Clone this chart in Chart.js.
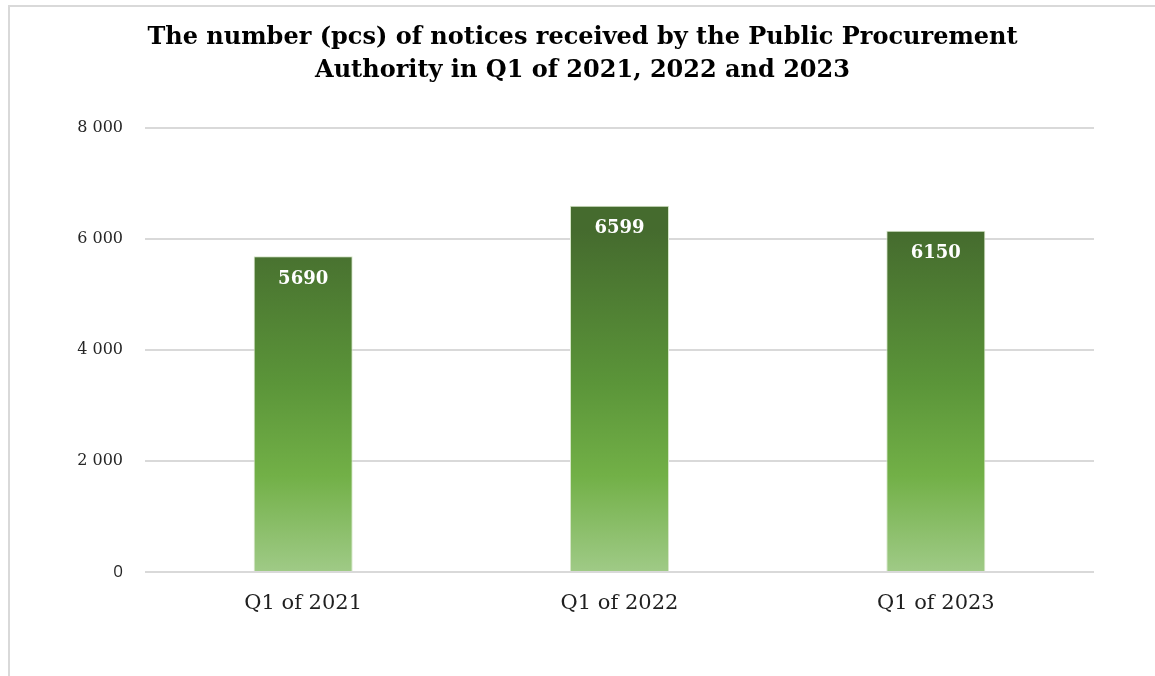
<!DOCTYPE html>
<html>
<head>
<meta charset="utf-8">
<script src="https://cdn.jsdelivr.net/npm/chart.js@4"></script>
<style>
  html, body { margin: 0; padding: 0; background: #fff; overflow: hidden; }
  #frame {
    position: absolute; left: 8px; top: 5px; width: 1147px; height: 671px;
    border-left: 2px solid #d9d9d9; border-top: 2px solid #d9d9d9;
  }
  #wrap { width: 1145px; height: 669px; }
</style>
</head>
<body>
<div id="frame"><div id="wrap"><canvas id="grafica"></canvas></div></div>
<script>
const categorias = ['Q1 of 2021', 'Q1 of 2022', 'Q1 of 2023'];
const avisos = [5690, 6599, 6150];
const tituloLineas = [
    'The number (pcs) of notices received by the Public Procurement',
    'Authority in Q1 of 2021, 2022 and 2023'
];

const fuenteSerif = '"DejaVu Serif", "Liberation Serif", serif';

// Degradado vertical en cada barra (oscuro arriba, claro abajo)
const degradadoBarras = {
    id: 'degradadoBarras',
    beforeDatasetsDraw(chart) {
        const ctx = chart.ctx;
        chart.getDatasetMeta(0).data.forEach(bar => {
            const g = ctx.createLinearGradient(0, bar.y, 0, bar.base);
            g.addColorStop(0, '#456b2e');
            g.addColorStop(0.45, '#5b9539');
            g.addColorStop(0.72, '#72b047');
            g.addColorStop(1, '#9fca86');
            bar.options.backgroundColor = g;
        });
    }
};

// Etiquetas de valor dentro de la barra, arriba
const etiquetasValor = {
    id: 'etiquetasValor',
    afterDatasetsDraw(chart) {
        const ctx = chart.ctx;
        const meta = chart.getDatasetMeta(0);
        ctx.save();
        ctx.fillStyle = '#ffffff';
        ctx.font = 'bold 18px ' + fuenteSerif;
        ctx.textAlign = 'center';
        ctx.textBaseline = 'middle';
        meta.data.forEach((bar, i) => {
            ctx.fillText(String(avisos[i]), bar.x, bar.y + 23);
        });
        ctx.restore();
    }
};

new Chart(document.getElementById('grafica'), {
    type: 'bar',
    data: {
        labels: categorias,
        datasets: [{
            data: avisos,
            backgroundColor: '#70ad47',
            borderColor: '#d6e6c8',
            borderWidth: 1,
            categoryPercentage: 1,
            barPercentage: 0.313
        }]
    },
    options: {
        responsive: true,
        maintainAspectRatio: false,
        animation: false,
        layout: { padding: 0 },
        plugins: {
            legend: { display: false },
            tooltip: { enabled: false },
            title: {
                display: true,
                text: tituloLineas,
                color: '#000000',
                font: { family: fuenteSerif, size: 24, weight: 'bold', lineHeight: 1.375 },
                padding: { top: 14, bottom: 41 }
            }
        },
        scales: {
            x: {
                grid: { display: false, drawTicks: false },
                border: { display: false },
                ticks: {
                    color: '#1f1f1f',
                    font: { family: fuenteSerif, size: 21 },
                    padding: 19
                },
                afterFit(scale) { scale.height = 104; }
            },
            y: {
                min: 0,
                max: 8000,
                grid: { color: '#d9d9d9', lineWidth: 2, drawTicks: false },
                border: { display: false },
                ticks: {
                    stepSize: 2000,
                    color: '#262626',
                    padding: 22,
                    font: c => c.tick && c.tick.value === 0
                        ? { family: '"Open Sans", "Liberation Sans", sans-serif', size: 17 }
                        : { family: fuenteSerif, size: 16 },
                    callback: v => v === 0 ? '0' : String(v).replace(/\B(?=(\d{3})+(?!\d))/g, ' ')
                },
                afterFit(scale) { scale.width = 135; }
            },
            // eje vacío a la derecha: solo reserva el margen
            margenDer: {
                type: 'linear',
                position: 'right',
                display: true,
                grid: { display: false, drawTicks: false },
                border: { display: false },
                ticks: { display: false },
                afterFit(scale) { scale.width = 61; }
            }
        }
    },
    plugins: [degradadoBarras, etiquetasValor]
});
</script>
</body>
</html>
